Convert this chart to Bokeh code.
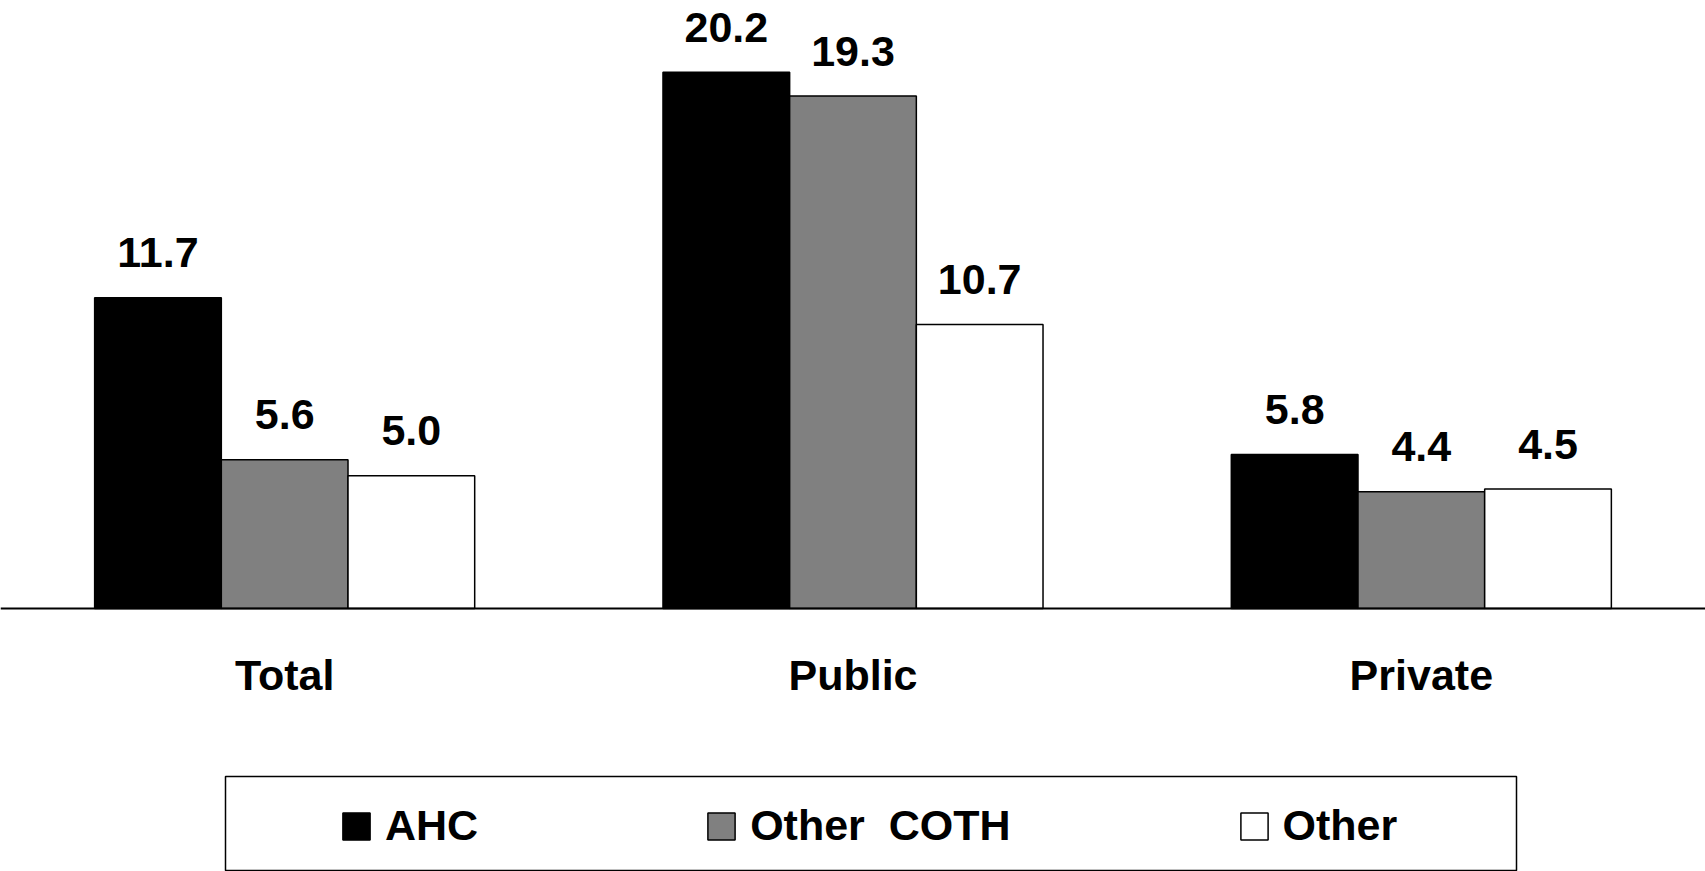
from bokeh.plotting import figure
from bokeh.models import ColumnDataSource, FactorRange, Range1d, Span, Legend, LegendItem, BoxAnnotation
from bokeh.transform import dodge
from bokeh.core.properties import value
from bokeh.embed import file_html
from bokeh.resources import INLINE

# ---- data ----
categories = ["Total", "Public", "Private"]
series_names = ["AHC", "Other  COTH", "Other"]
ahc = [11.7, 20.2, 5.8]
other_coth = [5.6, 19.3, 4.4]
other = [5.0, 10.7, 4.5]
series_values = [ahc, other_coth, other]
series_colors = ["#000000", "#808080", "#ffffff"]

# ---- layout constants ----
W, H = 1705, 871
px_per_unit = 26.55
base_px = 608
FONT = value("Liberation Sans")

p = figure(width=W, height=H,
           x_range=FactorRange(factors=categories, range_padding=0),
           y_range=Range1d(-(H - base_px) / px_per_unit, base_px / px_per_unit),
           x_axis_location=None, y_axis_location=None,
           output_backend="svg", toolbar_location=None, min_border=0)
p.grid.visible = False
p.outline_line_color = None
p.background_fill_color = "white"
p.border_fill_color = "white"

bar_w = 0.2229
offsets = [-bar_w, 0.0, bar_w]
renderers = []
for name, vals, col, off in zip(series_names, series_values, series_colors, offsets):
    src = ColumnDataSource(dict(cat=categories, val=vals, label=[f"{v:.1f}" for v in vals]))
    r = p.vbar(x=dodge("cat", off, range=p.x_range), top="val", bottom=0, width=bar_w,
               source=src, fill_color=col, line_color="black", line_width=1.5)
    renderers.append(r)
    p.text(x=dodge("cat", off, range=p.x_range), y="val", text="label", source=src,
           text_align="center", text_baseline="alphabetic", y_offset=-45,
           text_font=FONT, text_font_style="bold", text_font_size="43px", text_color="black")

p.add_layout(Span(location=0, dimension="width", line_color="black", line_width=2))

cat_src = ColumnDataSource(dict(cat=categories))
p.text(x="cat", y=0, text="cat", source=cat_src, text_align="center", text_baseline="alphabetic",
       y_offset=66, text_font=FONT, text_font_style="bold", text_font_size="43px", text_color="black")

legend = Legend(items=[LegendItem(label=n, renderers=[r]) for n, r in zip(series_names, renderers)],
                orientation="horizontal", location=(339, 21), spacing=226, padding=0,
                glyph_width=34, glyph_height=34, label_standoff=12,
                label_text_font="Liberation Sans", label_text_font_style="bold",
                label_text_font_size="43px", label_text_color="black",
                border_line_alpha=0, background_fill_alpha=0)
p.add_layout(legend)

box = BoxAnnotation(left=225, right=1516, bottom=1, top=95,
                    left_units="screen", right_units="screen", top_units="screen", bottom_units="screen",
                    fill_alpha=0, line_color="black", line_alpha=1.0, line_width=1.5)
p.add_layout(box)

open("out.html", "w").write(file_html(p, INLINE))
